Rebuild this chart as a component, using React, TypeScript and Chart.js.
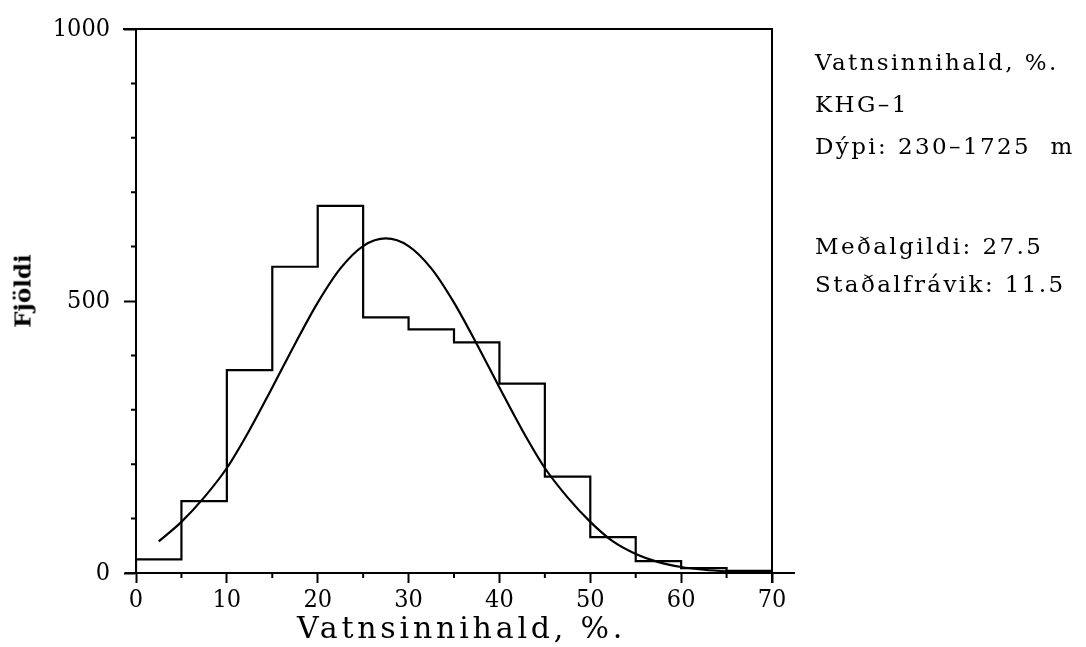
import React, { useEffect, useRef } from 'react';
import { Chart, registerables } from 'chart.js';

Chart.register(...registerables);

// Histogram bins (lower edge, %) and counts
const binStarts = [0, 5, 10, 15, 20, 25, 30, 35, 40, 45, 50, 55, 60, 65];
const binWidth = 5;
const counts = [25, 132, 373, 563, 675, 470, 448, 424, 348, 177, 66, 22, 9, 4];

// Fitted curve
const curveX = [2.5, 5, 7.5, 10, 12.5, 15, 17.5, 20, 22.5, 25, 27.5, 30, 32.5, 35, 37.5, 40, 42.5, 45, 47.5, 50, 52.5, 55, 57.5, 60, 62.5, 65, 67.5, 70];
const curveY = [58, 94, 139, 193, 263, 341, 421, 497, 560, 601, 615, 601, 560, 497, 421, 341, 263, 193, 139, 94, 58, 35, 20, 11, 6, 3, 1.4, 0.6];

// Axis ticks
const xMajorStep = 10;
const xMinorTicks = [5, 15, 25, 35, 45, 55, 65];
const yMajorStep = 500;
const yMinorTicks = [100, 200, 300, 400, 600, 700, 800, 900];

const xTitle = 'Vatnsinnihald, %.';
const yTitle = 'Fjöldi';
const infoLines = ['Vatnsinnihald, %.', 'KHG–1', 'Dýpi: 230–1725  m'];
const statLines = ['Meðalgildi: 27.5', 'Staðalfrávik: 11.5'];

const framePlugin = {
  id: 'frame',
  afterDatasetsDraw(chart: any) {
    const { ctx, chartArea: a, scales } = chart;
    const x = scales.x;
    const y = scales.y;
    ctx.save();
    ctx.strokeStyle = '#000';
    ctx.lineWidth = 2;
    ctx.beginPath();
    ctx.moveTo(a.left - 11, a.bottom);
    ctx.lineTo(a.right + 23, a.bottom);
    ctx.moveTo(a.left - 13, a.top);
    ctx.lineTo(a.right + 1, a.top);
    ctx.moveTo(a.right, a.top);
    ctx.lineTo(a.right, a.bottom + 10);
    for (const v of xMinorTicks) {
      const px = x.getPixelForValue(v);
      ctx.moveTo(px, a.bottom);
      ctx.lineTo(px, a.bottom + 5);
    }
    for (const v of yMinorTicks) {
      const py = y.getPixelForValue(v);
      ctx.moveTo(a.left - 5, py);
      ctx.lineTo(a.left, py);
    }
    ctx.stroke();
    ctx.restore();
  },
};

export default function App() {
  const ref = useRef<HTMLCanvasElement | null>(null);

  useEffect(() => {
    if (!ref.current) return;
    const histPoints: { x: number; y: number }[] = [{ x: binStarts[0], y: 0 }];
    binStarts.forEach((b, i) => histPoints.push({ x: b, y: counts[i] }));
    const lastEnd = binStarts[binStarts.length - 1] + binWidth;
    histPoints.push({ x: lastEnd, y: counts[counts.length - 1] });
    histPoints.push({ x: lastEnd, y: 0 });
    const curvePoints = curveX.map((x, i) => ({ x, y: curveY[i] }));

    const tickFont = { family: '"DejaVu Serif Condensed", "DejaVu Serif"', size: 25 };
    const chart = new Chart(ref.current, {
      type: 'line',
      data: {
        datasets: [
          {
            data: histPoints,
            borderColor: '#000',
            borderWidth: 2.2,
            pointRadius: 0,
            stepped: 'before',
            fill: false,
          },
          {
            data: curvePoints,
            borderColor: '#000',
            borderWidth: 2.2,
            pointRadius: 0,
            cubicInterpolationMode: 'monotone',
            fill: false,
          },
        ],
      },
      options: {
        animation: false,
        responsive: false,
        maintainAspectRatio: false,
        layout: { padding: { left: 0, top: 24, right: 314, bottom: 0 } },
        plugins: {
          legend: { display: false },
          tooltip: { enabled: false },
          title: { display: false },
        },
        scales: {
          x: {
            type: 'linear',
            position: 'bottom',
            min: 0,
            max: 70,
            ticks: {
              stepSize: xMajorStep,
              font: tickFont,
              color: '#000',
              padding: 2,
              maxRotation: 0,
              autoSkip: false,
              callback: (v: any) => String(v),
            },
            grid: {
              display: true,
              drawOnChartArea: false,
              drawTicks: true,
              tickLength: 10,
              tickWidth: 2,
              tickColor: '#000',
              color: '#000',
            },
            border: { display: true, color: '#000', width: 2 },
            afterFit: (s: any) => {
              s.height = 74;
            },
          },
          y: {
            type: 'linear',
            min: 0,
            max: 1000,
            ticks: {
              stepSize: yMajorStep,
              font: tickFont,
              color: '#000',
              padding: 14,
              autoSkip: false,
              callback: (v: any) => String(v),
            },
            grid: {
              display: true,
              drawOnChartArea: false,
              drawTicks: true,
              tickLength: 12,
              tickWidth: 2,
              tickColor: '#000',
              color: '#000',
            },
            border: { display: true, color: '#000', width: 2 },
            afterFit: (s: any) => {
              s.width = 136;
            },
          },
        },
      } as any,
      plugins: [framePlugin],
    });
    return () => chart.destroy();
  }, []);

  const infoStyle = (top: number): React.CSSProperties => ({
    position: 'absolute',
    left: 815,
    top,
    fontFamily: 'DejaVu Serif',
    fontSize: 23,
    lineHeight: '23px',
    letterSpacing: '2.4px',
    whiteSpace: 'pre',
    color: '#000',
  });

  return (
    <div style={{ position: 'absolute', left: 0, top: 0, width: 1086, height: 647, background: '#fff' }}>
      <canvas ref={ref} width={1086} height={647} style={{ display: 'block', width: 1086, height: 647 }} />
      <div
        style={{
          position: 'absolute',
          left: 22,
          top: 291,
          transform: 'translate(-50%, -50%) rotate(-90deg)',
          fontFamily: 'DejaVu Serif',
          fontWeight: 'bold',
          fontSize: 23,
          lineHeight: '23px',
          whiteSpace: 'nowrap',
          color: '#000',
        }}
      >
        {yTitle}
      </div>
      <div
        style={{
          position: 'absolute',
          left: 297,
          top: 613,
          fontFamily: 'DejaVu Serif',
          fontSize: 30,
          lineHeight: '30px',
          letterSpacing: '3.8px',
          whiteSpace: 'pre',
          color: '#000',
        }}
      >
        {xTitle}
      </div>
      {infoLines.map((t, i) => (
        <div key={'i' + i} style={infoStyle([51, 93, 135][i])}>
          {t}
        </div>
      ))}
      {statLines.map((t, i) => (
        <div key={'s' + i} style={infoStyle([235, 273][i])}>
          {t}
        </div>
      ))}
    </div>
  );
}
